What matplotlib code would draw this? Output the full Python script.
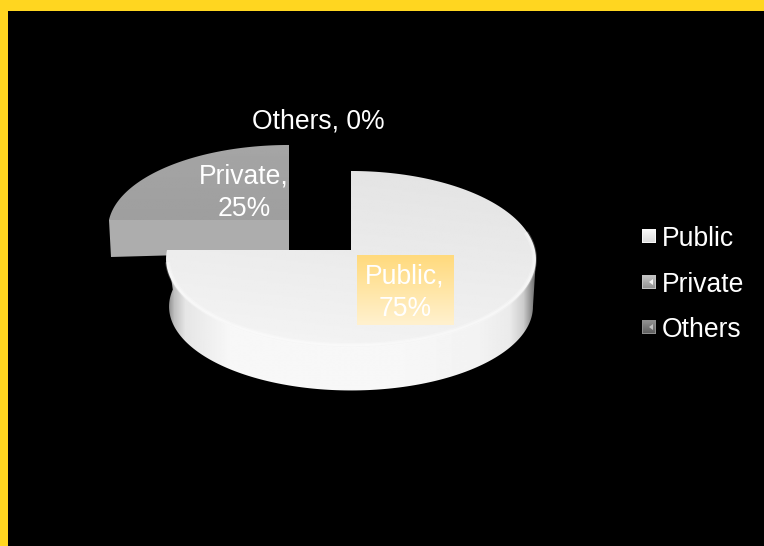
import numpy as np
import matplotlib
matplotlib.use("Agg")
import matplotlib.pyplot as plt
from matplotlib.patches import Polygon, Rectangle
from matplotlib.colors import LinearSegmentedColormap

plt.rcParams['font.family'] = ['Liberation Sans', 'DejaVu Sans']

# datos del grafico
categories = ['Public', 'Private', 'Others']
shares = [75, 25, 0]
legend_greys = [(0.86, 0.97), (0.58, 0.76), (0.38, 0.56)]

W, H = 764, 546
fig = plt.figure(figsize=(W / 100, H / 100), dpi=100, facecolor='black')
ax = fig.add_axes([0, 0, 1, 1])
ax.set_facecolor('black')
ax.axis('off')

grey_map = LinearSegmentedColormap.from_list('g', ['black', 'white'])
K = 0.1023


# circulo -> disco visto en perspectiva
def project(t, cx, cy, rx, ay):
    u, v = np.cos(t), np.sin(t)
    w = 1 + K * v
    return cx + rx * u / w, cy - ay * v / w


def arc(t0, t1, cx, cy, rx, ay, n=160):
    x, y = project(np.linspace(t0, t1, n), cx, cy, rx, ay)
    return np.column_stack([x, y])


def shaded(img, xy, extent, zorder):
    poly = Polygon(xy, closed=True, facecolor='none', edgecolor='none')
    ax.add_patch(poly)
    im = ax.imshow(img, extent=extent, cmap=grey_map, vmin=0, vmax=1,
                   aspect='auto', interpolation='bilinear', zorder=zorder)
    im.set_clip_path(poly)


# angulos de cada porcion, en sentido horario desde arriba
angles = [np.pi / 2]
for s in shares:
    angles.append(angles[-1] - 2 * np.pi * s / sum(shares))

# porcion Private
p0, p1 = angles[1], angles[2]
pcx, pcy, prx, pay = 289, 220, 180, 82.7
ptop = np.vstack([[[pcx, pcy]], arc(p0, p1, pcx, pcy, prx, pay)])
left = ptop[1]
pside = [left, (pcx, pcy), (pcx, pcy + 32), (left[0] + 2, left[1] + 37)]
ax.add_patch(Polygon(pside, closed=True, facecolor='#adadad', edgecolor='none', zorder=2))
yy = np.linspace(0, 1, 50)[:, None]
shaded(0.65 - 0.03 * yy, ptop, (100, 300, 225, 140), 3)

# porcion Public: lateral, metido por debajo de la cara superior
cx, cy, rx, ay = 351, 250, 184, 87.1
a0, a1 = angles[0], angles[1]
tangent = np.arcsin(-K)
side_in = arc(tangent, np.radians(-168), cx, cy - 6, rx - 8, ay - 6)
side_out = arc(a1 + tangent, tangent, cx, 298, 181, 83)
corner_l = project(a1, cx, cy, rx, ay)
corner_r = project(tangent, cx, cy, rx, ay)
gx = np.array([160, 168, 174, 185, 230, 400, 480, 510, 524, 532, 538])
gv = np.array([0.45, 0.55, 0.75, 0.90, 0.97, 0.97, 0.95, 0.92, 0.80, 0.55, 0.35])
xs = np.arange(160, 541)
side_img = np.interp(xs, gx, gv)[None, :]
side_poly = np.vstack([[corner_r], side_in, [corner_l], side_out])
shaded(side_img, side_poly, (160, 540, 400, 240), 4)

# porcion Public: cara superior
top = np.vstack([[[cx, cy]], arc(a0, a1, cx, cy, rx, ay)])
X, Y = np.meshgrid(np.linspace(0, 1, 200), np.linspace(0, 1, 120))
top_img = 0.90 + 0.06 * Y - 0.015 * X
shaded(top_img, top, (160, 540, 350, 165), 5)
rim = arc(np.radians(-172), np.radians(12), cx, cy, rx - 1.5, ay - 1.5)
ax.plot(rim[:, 0], rim[:, 1], color='white', lw=3.5, alpha=0.25, solid_capstyle='butt', zorder=6)
ax.plot(rim[:, 0], rim[:, 1], color='white', lw=1.5, alpha=0.35, solid_capstyle='butt', zorder=6)

# recuadro de la etiqueta Public
c0 = np.array([1.0, 0.855, 0.49])
c1 = np.array([1.0, 0.945, 0.81])
box = (c0 + (c1 - c0) * np.linspace(0, 1, 60)[:, None])[:, None, :]
ax.imshow(box, extent=(357, 454, 325, 255), aspect='auto', interpolation='bilinear', zorder=7)

# etiquetas
fs = 19.1
labels = [f'{c},\n{s}%' for c, s in zip(categories, shares)]
ax.text(405, 293, labels[0], color='white', fontsize=fs, ha='center', va='center',
        linespacing=1.32, zorder=8)
ax.text(244, 193, labels[1], color='white', fontsize=fs, ha='center', va='center',
        linespacing=1.32, zorder=8)
ax.text(318, 122, labels[2].replace('\n', ' '), color='white', fontsize=fs, ha='center', va='center', zorder=8)

# leyenda
legend_y = [236, 282, 327]
for name, y, (g0, g1) in zip(categories, legend_y, legend_greys):
    grad = np.linspace(g1, g0, 20)[:, None]
    ax.add_patch(Rectangle((642, y - 7), 14, 14, facecolor=str(g1), edgecolor='none', zorder=3))
    ax.imshow(grad * np.ones((20, 20)), extent=(643, 655, y + 6, y - 6), cmap=grey_map, vmin=0, vmax=1,
              aspect='auto', zorder=4)
    if name != 'Public':
        ax.add_patch(Polygon([(649, y), (653, y - 3), (653, y + 3)], closed=True,
                             facecolor=str(min(g1 + 0.2, 1)), edgecolor='none', zorder=5))
    ax.text(662, y + 10, name, color='white', fontsize=fs, ha='left', va='baseline', zorder=8)

# marco amarillo
ax.add_patch(Rectangle((0, 0), W, 11, facecolor='#ffd620', edgecolor='none', zorder=10))
ax.add_patch(Rectangle((0, 0), 8, H, facecolor='#ffd620', edgecolor='none', zorder=10))

ax.set_xlim(0, W)
ax.set_ylim(H, 0)
fig.savefig('out.png', dpi=100, facecolor='black')
